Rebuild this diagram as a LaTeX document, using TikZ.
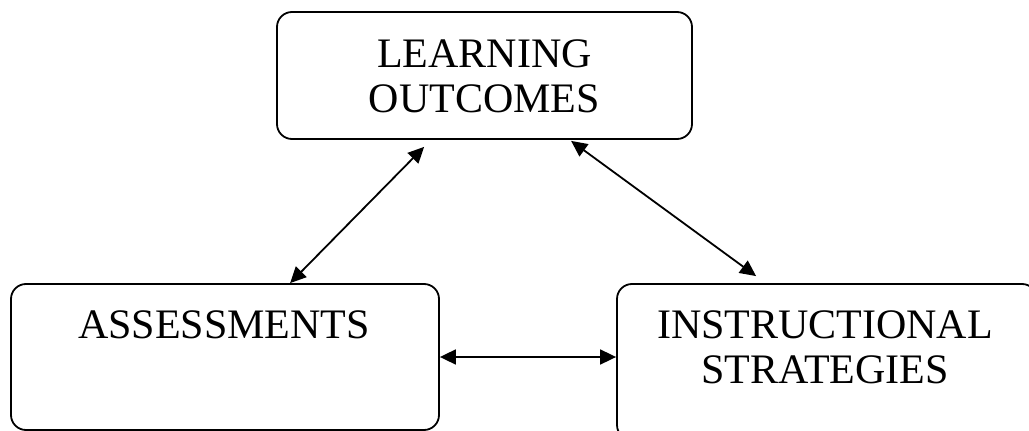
\documentclass[tikz,border=0pt]{standalone}
\usepackage{fontspec}
\setmainfont{Liberation Serif}
\usetikzlibrary{arrows.meta,calc}
\tikzset{
  box/.style={draw=black, line width=1.8pt, rounded corners=15pt, inner sep=0pt},
  lbl/.style={font=\fontsize{42}{45}\selectfont, inner sep=0pt, anchor=base},
  arr/.style={line width=1.8pt, {Triangle[length=16pt,width=15pt]}-{Triangle[length=16pt,width=15pt]}, shorten <=0pt, shorten >=0pt}
}
\begin{document}
\begin{tikzpicture}[x=1pt,y=1pt]
\useasboundingbox (0,0) rectangle (1029,-431);
\clip (0,0) rectangle (1029,-431);
% boxes
\node[box, minimum width=415pt, minimum height=127pt] (lo) at (484.5,-75.5) {};
\node[box, minimum width=428pt, minimum height=146pt] (as) at (225,-357) {};
\node[box, minimum width=420pt, minimum height=156pt] (is) at (827,-362) {};
% labels
\node[lbl] (lo1) at (484.5,-67) {LEARNING};
\node[lbl] (lo2) at (484.5,-112) {OUTCOMES};
\node[lbl] (as1) at (224,-338) {ASSESSMENTS};
\node[lbl] (is1) at (825,-338) {INSTRUCTIONAL};
\node[lbl] (is2) at (825,-383) {STRATEGIES};
% connector end points
\coordinate (t1) at ([xshift=148pt,yshift=-7pt]lo.south west);
\coordinate (a1) at ([xshift=280pt]as.north west);
\coordinate (t2) at ([xshift=295pt,yshift=-1pt]lo.south west);
\coordinate (i2) at ([xshift=140pt,yshift=7pt]is.north west);
% connectors
\draw[arr] (t1) -- (a1);
\draw[arr] (t2) -- (i2);
\draw[arr] (as.east) -- (as.east -| is.west);
\end{tikzpicture}
\end{document}
